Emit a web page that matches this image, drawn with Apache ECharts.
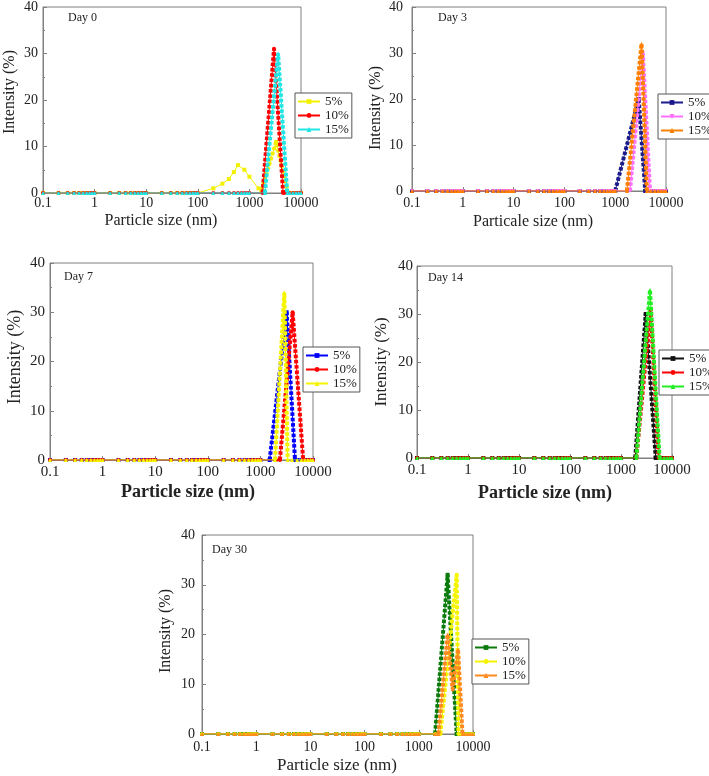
<!DOCTYPE html>
<html><head><meta charset="utf-8">
<script src="https://cdn.jsdelivr.net/npm/echarts@6/dist/echarts.min.js"></script>
<style>html,body{margin:0;padding:0;background:#fff}#c{width:709px;height:776px}</style>
</head><body><div id="c"></div>
<script>
// x positions where the instrument reports zero intensity (baseline markers)
const BASE = [0.1,0.2,0.3,0.4,0.5,0.6,0.7,0.8,0.9,1,2,3,4,5,6,7,8,9,10,20,30,40,50,60,70,80,90,100,200,300,400,500,600,700,800,900,1000,2000,3000,4000,5000,6000,7000,8000,9000,10000];
const xTicks = [0.1,1,10,100,1000,10000];
const yTicks = [0,10,20,30,40];
const seriesLabels = ['5%','10%','15%'];
const panelTitles = ['Day 0','Day 3','Day 7','Day 14','Day 30'];

// Day 0
const d0_5_sparse = [[200,1],[300,2],[400,3],[500,4.5],[600,6],[800,5],[1000,3.5],[1500,1]];
const d0_5_peak = [[1700,0.5],[3300,11],[5600,0]];
const d0_10_peak = [[1800,0],[3000,31],[4500,0]];
const d0_15_peak = [[2000,0],[3600,30],[5400,0]];
// Day 3
const d3_5_peak = [[1000,0],[2900,20],[3900,0]];
const d3_10_peak = [[1950,0],[3500,30],[4850,0]];
const d3_15_peak = [[1700,0],[3300,32],[4200,0]];
// Day 7
const d7_5_peak = [[1500,0],[3150,30],[4550,0]];
const d7_10_peak = [[2350,0],[4100,30],[6500,0]];
const d7_15_peak = [[1900,0],[2850,34],[3300,0]];
// Day 14
const d14_5_peak = [[1900,0],[3050,30],[4800,0]];
const d14_10_peak = [[2000,0],[3800,31],[5500,0]];
const d14_15_peak = [[2000,0],[3700,35],[5700,0]];
// Day 30
const d30_5_peak = [[2000,0],[3400,32],[5000,0]];
const d30_10_peak = [[2500,0],[5000,32],[5400,0]];
const d30_15_peak = [[2300,0],[3400,20],[4200,9],[5300,17],[6400,0]];

const FONT = 'Liberation Serif';
const panels = [
  {grid:{left:43,top:5,width:258,height:188}, lab:14, xm:3, ym:5,
   legend:{left:295,top:93}, day:{x:68,y:18},
   xt:{text:'Particle size (nm)',x:161,y:221,size:16,bold:false}, yt:{text:'Intensity (%)',x:10,y:92,size:16,bold:false},
   s:[{c:'#f2f200',sym:'rect',sparse:d0_5_sparse,peak:d0_5_peak},
      {c:'#ff0000',sym:'circle',sparse:[],peak:d0_10_peak},
      {c:'#22e5e5',sym:'triangle',sparse:[],peak:d0_15_peak}]},
  {grid:{left:412,top:6,width:254,height:185}, lab:14, xm:5, ym:9,
   legend:{left:658,top:94}, day:{x:438,y:18},
   xt:{text:'Particale size (nm)',x:533,y:222,size:16,bold:false}, yt:{text:'Intensity (%)',x:376,y:108,size:16,bold:false},
   s:[{c:'#1a1a8a',sym:'rect',sparse:[],peak:d3_5_peak},
      {c:'#ff70ff',sym:'triangle',rot:180,sparse:[],peak:d3_10_peak},
      {c:'#ff8000',sym:'triangle',sparse:[],peak:d3_15_peak}]},
  {grid:{left:50,top:263,width:263,height:197}, lab:15, xm:5, ym:5,
   legend:{left:303,top:347}, day:{x:64,y:277},
   xt:{text:'Particle size (nm)',x:188,y:492,size:18,bold:true}, yt:{text:'Intensity (%)',x:15,y:357,size:18,bold:false},
   s:[{c:'#0000ff',sym:'rect',sparse:[],peak:d7_5_peak},
      {c:'#ff0000',sym:'circle',sparse:[],peak:d7_10_peak},
      {c:'#f5f500',sym:'triangle',sparse:[],peak:d7_15_peak}]},
  {grid:{left:417,top:266,width:255,height:192}, lab:15, xm:5, ym:4,
   legend:{left:659,top:350}, day:{x:428,y:278},
   xt:{text:'Particle size (nm)',x:545,y:493,size:18,bold:true}, yt:{text:'Intensity (%)',x:382,y:362,size:17,bold:false},
   s:[{c:'#111111',sym:'rect',sparse:[],peak:d14_5_peak},
      {c:'#ff0000',sym:'circle',sparse:[],peak:d14_10_peak},
      {c:'#22ee22',sym:'triangle',sparse:[],peak:d14_15_peak}]},
  {grid:{left:202,top:535,width:271,height:199}, lab:14, xm:6, ym:7,
   legend:{left:472,top:639}, day:{x:212,y:550},
   xt:{text:'Particle size (nm)',x:337,y:766,size:17,bold:false}, yt:{text:'Intensity (%)',x:166,y:631,size:16,bold:false},
   s:[{c:'#0a7a0a',sym:'rect',sparse:[],peak:d30_5_peak},
      {c:'#f5f500',sym:'circle',sparse:[],peak:d30_10_peak},
      {c:'#ff8a20',sym:'triangle',sparse:[],peak:d30_15_peak}]}
];

const grids=[], xAxes=[], yAxes=[], series=[], legends=[], graphics=[];
panels.forEach((p,i)=>{
  grids.push(Object.assign({show:true,borderColor:'#808080',borderWidth:1,backgroundColor:'transparent'},p.grid));
  xAxes.push({type:'log',logBase:10,gridIndex:i,min:xTicks[0],max:xTicks[xTicks.length-1],
    axisLine:{show:true,lineStyle:{color:'#808080'}},
    axisTick:{show:true,inside:true,length:4,lineStyle:{color:'#808080'}},
    splitLine:{show:false},
    axisLabel:{margin:p.xm,fontFamily:FONT,fontSize:p.lab,color:'#222',formatter:v=>String(+(+v).toPrecision(6))}});
  yAxes.push({type:'value',gridIndex:i,min:yTicks[0],max:yTicks[yTicks.length-1],interval:10,
    axisLine:{show:true,lineStyle:{color:'#808080'}},
    axisTick:{show:true,inside:true,length:4,lineStyle:{color:'#808080'}},
    minorTick:{show:true,splitNumber:2,length:2,lineStyle:{color:'#808080'}},
    splitLine:{show:false},
    axisLabel:{margin:p.ym,fontFamily:FONT,fontSize:p.lab,color:'#222'}});
  const names=[];
  p.s.forEach((s,k)=>{
    const name=panelTitles[i]+'|'+seriesLabels[k];
    names.push(name);
    const nz=s.sparse.concat(s.peak);
    const xmin=Math.min(...nz.map(d=>d[0])), xmax=Math.max(...nz.map(d=>d[0]));
    const base=BASE.filter(x=>x<xmin||x>xmax).map(x=>[x,0]);
    const dataA=base.concat(nz).sort((a,b)=>a[0]-b[0]);
    series.push({type:'line',name,xAxisIndex:i,yAxisIndex:i,data:dataA,
      symbol:s.sym,symbolRotate:s.rot||0,symbolSize:4,showAllSymbol:true,
      lineStyle:{width:1,color:s.c},itemStyle:{color:s.c},animation:false,z:2+k});
    series.push({type:'line',name,xAxisIndex:i,yAxisIndex:i,data:s.peak,
      showSymbol:false,symbol:'none',silent:true,
      lineStyle:{width:4,type:[3.5,1.8],color:s.c},itemStyle:{color:s.c},animation:false,z:2+k});
  });
  legends.push({data:names,orient:'vertical',left:p.legend.left,top:p.legend.top,
    backgroundColor:'#fff',borderColor:'#555',borderWidth:1,padding:[2,3,2,2],itemGap:1,
    itemWidth:22,itemHeight:6,selectedMode:false,
    textStyle:{fontFamily:FONT,fontSize:13,color:'#222',lineHeight:12},
    formatter:n=>n.split('|')[1]});
  graphics.push({type:'text',left:p.day.x,top:p.day.y-6,style:{text:panelTitles[i],font:'12px "'+FONT+'"',fill:'#222'}});
  graphics.push({type:'text',x:p.xt.x,y:p.xt.y,style:{text:p.xt.text,font:(p.xt.bold?'bold ':'')+p.xt.size+'px "'+FONT+'"',fill:'#222',align:'center',verticalAlign:'middle'}});
  graphics.push({type:'text',x:p.yt.x,y:p.yt.y,rotation:Math.PI/2,style:{text:p.yt.text,font:(p.yt.bold?'bold ':'')+p.yt.size+'px "'+FONT+'"',fill:'#222',align:'center',verticalAlign:'middle'}});
});

const chart=echarts.init(document.getElementById('c'),null,{renderer:'canvas'});
chart.setOption({animation:false,backgroundColor:'#fff',grid:grids,xAxis:xAxes,yAxis:yAxes,series,legend:legends,graphic:graphics});
</script></body></html>
